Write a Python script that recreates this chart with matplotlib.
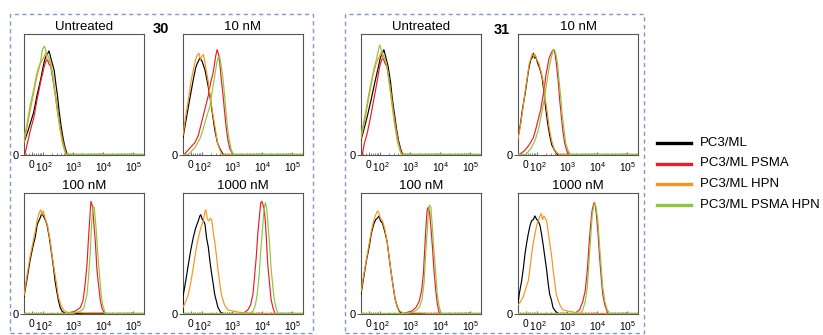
import numpy as np
import matplotlib
matplotlib.use("Agg")
import matplotlib.pyplot as plt
from matplotlib.lines import Line2D
from matplotlib.patches import Rectangle

plt.rcParams['font.family'] = ['Liberation Sans', 'DejaVu Sans']
plt.rcParams['mathtext.fontset'] = 'custom'
plt.rcParams['mathtext.rm'] = 'Liberation Sans'
plt.rcParams['mathtext.default'] = 'regular'

# ---------------- data ----------------
SERIES = ['PC3/ML', 'PC3/ML PSMA', 'PC3/ML HPN', 'PC3/ML PSMA HPN']
COLORS = ['#000000', '#ec1c24', '#f7941d', '#8dc63f']
COMPOUNDS = ['30', '31']
TREATMENTS = ['Untreated', '10 nM', '100 nM', '1000 nM']
# x: logicle display position in decades (0 sits near 1.62), y: fraction of axis height
TICK_POS = [1.62, 2, 3, 4, 5]
TICK_LABELS = ['0', ' $10^2$', '$10^3$', '$10^4$', '$10^5$']
X_RANGE = (1.37, 5.35)

# compound 30, untreated
P30_UNT_K = [(1.37,0.10),(1.52,0.21),(1.69,0.35),(1.80,0.49),(1.92,0.62),(2.03,0.76),(2.09,0.81),(2.14,0.83),(2.20,0.86),(2.26,0.80),(2.37,0.70),(2.43,0.58),(2.48,0.49),(2.54,0.35),(2.60,0.24),(2.65,0.16),(2.71,0.08),(2.80,0.0)]
P30_UNT_R = [(1.40,0.0),(1.48,0.09),(1.57,0.19),(1.69,0.30),(1.80,0.45),(1.92,0.60),(2.03,0.72),(2.09,0.77),(2.14,0.79),(2.20,0.75),(2.26,0.73),(2.31,0.65),(2.40,0.51),(2.48,0.38),(2.57,0.23),(2.65,0.13),(2.71,0.06),(2.77,0.0)]
P30_UNT_O = [(1.37,0.10),(1.46,0.21),(1.57,0.36),(1.69,0.51),(1.80,0.65),(1.92,0.76),(2.01,0.80),(2.09,0.84),(2.14,0.79),(2.23,0.77),(2.31,0.68),(2.39,0.51),(2.48,0.35),(2.57,0.20),(2.65,0.09),(2.73,0.02),(2.78,0.0)]
P30_UNT_G = [(1.37,0.14),(1.46,0.24),(1.57,0.40),(1.69,0.54),(1.80,0.68),(1.92,0.77),(1.98,0.87),(2.05,0.90),(2.12,0.84),(2.20,0.80),(2.26,0.76),(2.35,0.62),(2.43,0.46),(2.51,0.32),(2.57,0.21),(2.65,0.10),(2.71,0.05),(2.77,0.0)]

# compound 30, 10 nM
P30_10_K = [(1.37,0.14),(1.46,0.27),(1.55,0.40),(1.63,0.51),(1.71,0.62),(1.79,0.72),(1.85,0.76),(1.93,0.80),(2.01,0.77),(2.10,0.70),(2.18,0.60),(2.26,0.49),(2.34,0.35),(2.42,0.21),(2.51,0.10),(2.59,0.05),(2.70,0.0)]
P30_10_R = [(1.41,0.0),(1.55,0.04),(1.77,0.10),(1.88,0.16),(1.99,0.27),(2.10,0.38),(2.21,0.49),(2.29,0.60),(2.37,0.68),(2.45,0.81),(2.50,0.87),(2.55,0.83),(2.59,0.76),(2.64,0.62),(2.70,0.49),(2.75,0.35),(2.81,0.21),(2.86,0.12),(2.92,0.05),(3.03,0.0)]
P30_10_O = [(1.37,0.16),(1.46,0.32),(1.55,0.46),(1.63,0.60),(1.71,0.70),(1.79,0.79),(1.85,0.83),(1.90,0.84),(1.95,0.79),(2.01,0.82),(2.05,0.83),(2.12,0.73),(2.21,0.60),(2.29,0.45),(2.37,0.32),(2.45,0.20),(2.51,0.10),(2.59,0.04),(2.67,0.0)]
P30_10_G = [(1.55,0.0),(1.77,0.06),(1.93,0.13),(2.04,0.21),(2.15,0.31),(2.26,0.40),(2.35,0.54),(2.42,0.65),(2.49,0.76),(2.53,0.80),(2.58,0.82),(2.64,0.73),(2.70,0.62),(2.75,0.49),(2.81,0.32),(2.86,0.19),(2.92,0.10),(2.97,0.04),(3.05,0.0)]

# compound 30, 100 nM
P30_100_K = [(1.37,0.14),(1.46,0.27),(1.57,0.44),(1.66,0.55),(1.74,0.63),(1.81,0.74),(1.90,0.79),(1.96,0.83),(2.01,0.81),(2.07,0.78),(2.13,0.74),(2.21,0.63),(2.29,0.49),(2.35,0.38),(2.40,0.27),(2.46,0.18),(2.51,0.11),(2.57,0.05),(2.63,0.02),(2.74,0.0)]
P30_100_R = [(2.79,0.0),(3.07,0.02),(3.24,0.05),(3.33,0.11),(3.40,0.25),(3.46,0.41),(3.51,0.63),(3.56,0.82),(3.59,0.93),(3.64,0.89),(3.68,0.77),(3.74,0.58),(3.79,0.36),(3.85,0.22),(3.90,0.11),(3.96,0.04),(4.04,0.0)]
P30_100_O = [(1.37,0.15),(1.46,0.30),(1.57,0.47),(1.66,0.58),(1.74,0.68),(1.81,0.78),(1.88,0.84),(1.93,0.86),(1.97,0.82),(2.01,0.85),(2.07,0.79),(2.15,0.73),(2.24,0.60),(2.31,0.47),(2.37,0.37),(2.44,0.26),(2.51,0.14),(2.59,0.07),(2.68,0.03),(2.79,0.01),(3.01,0.01),(3.35,0.005),(4.01,0.005),(4.2,0.0)]
P30_100_G = [(3.01,0.0),(3.24,0.02),(3.35,0.04),(3.46,0.16),(3.51,0.30),(3.57,0.52),(3.61,0.74),(3.66,0.89),(3.70,0.88),(3.76,0.71),(3.81,0.52),(3.87,0.33),(3.93,0.16),(3.98,0.07),(4.07,0.0)]

# compound 30, 1000 nM
P30_1000_K = [(1.37,0.0),(1.37,0.14),(1.46,0.27),(1.55,0.41),(1.63,0.53),(1.71,0.63),(1.79,0.71),(1.88,0.77),(1.93,0.81),(1.96,0.82),(2.01,0.78),(2.05,0.77),(2.10,0.74),(2.15,0.63),(2.21,0.55),(2.26,0.44),(2.32,0.33),(2.37,0.25),(2.42,0.16),(2.48,0.10),(2.53,0.05),(2.62,0.01),(2.70,0.0)]
P30_1000_R = [(3.36,0.0),(3.52,0.03),(3.61,0.07),(3.69,0.16),(3.74,0.30),(3.80,0.47),(3.85,0.66),(3.91,0.82),(3.95,0.92),(3.99,0.93),(4.05,0.88),(4.10,0.77),(4.14,0.60),(4.18,0.41),(4.24,0.25),(4.29,0.12),(4.35,0.05),(4.42,0.0)]
P30_1000_O = [(1.37,0.05),(1.46,0.10),(1.55,0.16),(1.63,0.26),(1.71,0.38),(1.79,0.51),(1.88,0.63),(1.96,0.71),(2.04,0.77),(2.10,0.85),(2.13,0.86),(2.18,0.78),(2.23,0.77),(2.27,0.79),(2.32,0.78),(2.37,0.68),(2.42,0.60),(2.48,0.48),(2.53,0.36),(2.59,0.25),(2.64,0.16),(2.70,0.11),(2.75,0.07),(2.86,0.03),(3.03,0.02),(3.25,0.01),(3.52,0.005),(3.74,0.0)]
P30_1000_G = [(3.58,0.0),(3.69,0.02),(3.77,0.07),(3.83,0.16),(3.89,0.30),(3.94,0.49),(4.00,0.68),(4.05,0.85),(4.10,0.92),(4.14,0.88),(4.18,0.77),(4.24,0.58),(4.29,0.38),(4.35,0.22),(4.40,0.11),(4.46,0.04),(4.53,0.0)]

# compound 31, untreated
P31_UNT_K = [(1.37,0.12),(1.49,0.23),(1.60,0.34),(1.71,0.46),(1.83,0.60),(1.94,0.72),(2.01,0.80),(2.08,0.84),(2.13,0.87),(2.19,0.81),(2.27,0.73),(2.35,0.60),(2.41,0.46),(2.49,0.32),(2.55,0.21),(2.61,0.12),(2.68,0.05),(2.75,0.0)]
P31_UNT_R = [(1.41,0.0),(1.48,0.09),(1.57,0.17),(1.68,0.30),(1.79,0.45),(1.90,0.60),(1.99,0.73),(2.06,0.79),(2.10,0.80),(2.16,0.76),(2.24,0.72),(2.30,0.62),(2.38,0.49),(2.46,0.34),(2.55,0.19),(2.63,0.09),(2.69,0.03),(2.75,0.0)]
P31_UNT_O = [(1.37,0.13),(1.46,0.24),(1.57,0.39),(1.68,0.54),(1.79,0.68),(1.88,0.76),(1.97,0.81),(2.04,0.85),(2.10,0.80),(2.17,0.79),(2.25,0.70),(2.33,0.55),(2.41,0.39),(2.49,0.24),(2.57,0.12),(2.66,0.04),(2.71,0.0)]
P31_UNT_G = [(1.37,0.16),(1.46,0.27),(1.57,0.42),(1.68,0.57),(1.79,0.70),(1.88,0.79),(1.95,0.87),(1.99,0.91),(2.05,0.86),(2.13,0.81),(2.21,0.76),(2.30,0.62),(2.38,0.46),(2.46,0.31),(2.53,0.20),(2.60,0.09),(2.68,0.02),(2.73,0.0)]

# compound 31, 10 nM
P31_10_K = [(1.37,0.14),(1.45,0.25),(1.52,0.38),(1.61,0.51),(1.69,0.65),(1.74,0.73),(1.80,0.79),(1.85,0.81),(1.88,0.84),(1.92,0.80),(1.96,0.81),(2.02,0.76),(2.07,0.73),(2.13,0.68),(2.18,0.62),(2.24,0.50),(2.29,0.38),(2.36,0.25),(2.42,0.16),(2.49,0.08),(2.57,0.04),(2.68,0.0)]
P31_10_R = [(1.41,0.0),(1.58,0.03),(1.74,0.08),(1.88,0.14),(1.96,0.21),(2.05,0.30),(2.13,0.38),(2.18,0.46),(2.24,0.54),(2.29,0.65),(2.35,0.73),(2.40,0.80),(2.47,0.84),(2.51,0.86),(2.56,0.87),(2.60,0.83),(2.64,0.76),(2.70,0.62),(2.75,0.46),(2.81,0.31),(2.86,0.19),(2.92,0.09),(2.99,0.03),(3.06,0.0)]
P31_10_O = [(1.37,0.13),(1.45,0.24),(1.52,0.36),(1.61,0.53),(1.69,0.66),(1.74,0.75),(1.80,0.80),(1.85,0.84),(1.90,0.81),(1.94,0.83),(1.99,0.79),(2.07,0.75),(2.14,0.68),(2.21,0.60),(2.27,0.47),(2.34,0.35),(2.40,0.23),(2.48,0.12),(2.56,0.05),(2.64,0.02),(2.73,0.0)]
P31_10_G = [(1.63,0.0),(1.80,0.05),(1.94,0.12),(2.05,0.21),(2.16,0.35),(2.25,0.47),(2.34,0.62),(2.40,0.72),(2.47,0.80),(2.53,0.86),(2.58,0.87),(2.62,0.84),(2.68,0.76),(2.73,0.62),(2.79,0.47),(2.84,0.32),(2.90,0.20),(2.95,0.10),(3.02,0.04),(3.11,0.0)]

# compound 31, 100 nM
P31_100_K = [(1.37,0.16),(1.46,0.30),(1.55,0.44),(1.64,0.55),(1.71,0.66),(1.79,0.74),(1.86,0.78),(1.91,0.79),(1.97,0.81),(2.01,0.77),(2.08,0.75),(2.16,0.68),(2.24,0.59),(2.30,0.47),(2.37,0.34),(2.44,0.22),(2.50,0.12),(2.57,0.06),(2.64,0.02),(2.71,0.0)]
P31_100_R = [(2.77,0.0),(3.05,0.02),(3.19,0.05),(3.30,0.10),(3.38,0.19),(3.44,0.33),(3.48,0.52),(3.53,0.74),(3.56,0.85),(3.59,0.88),(3.64,0.85),(3.68,0.74),(3.74,0.55),(3.79,0.36),(3.85,0.19),(3.90,0.08),(3.97,0.0)]
P31_100_O = [(1.37,0.18),(1.46,0.32),(1.55,0.45),(1.64,0.58),(1.71,0.68),(1.79,0.77),(1.86,0.82),(1.91,0.85),(1.96,0.84),(2.01,0.79),(2.08,0.77),(2.16,0.70),(2.24,0.59),(2.30,0.47),(2.37,0.34),(2.44,0.22),(2.50,0.12),(2.58,0.05),(2.66,0.02),(2.77,0.005),(3.44,0.003),(3.6,0.0)]
P31_100_G = [(2.94,0.0),(3.16,0.02),(3.30,0.05),(3.39,0.11),(3.46,0.25),(3.51,0.47),(3.56,0.66),(3.60,0.82),(3.64,0.90),(3.69,0.88),(3.73,0.74),(3.79,0.52),(3.85,0.33),(3.90,0.16),(3.96,0.06),(4.03,0.0)]

# compound 31, 1000 nM
P31_1000_K = [(1.37,0.08),(1.41,0.16),(1.49,0.27),(1.55,0.38),(1.60,0.49),(1.66,0.59),(1.71,0.66),(1.77,0.73),(1.82,0.77),(1.88,0.78),(1.93,0.81),(1.99,0.78),(2.04,0.77),(2.10,0.73),(2.15,0.66),(2.21,0.56),(2.26,0.47),(2.32,0.36),(2.37,0.25),(2.42,0.16),(2.48,0.11),(2.53,0.05),(2.61,0.02),(2.70,0.0)]
P31_1000_R = [(3.25,0.0),(3.41,0.03),(3.52,0.10),(3.60,0.19),(3.67,0.36),(3.72,0.55),(3.78,0.74),(3.83,0.86),(3.89,0.92),(3.93,0.90),(3.97,0.82),(4.02,0.68),(4.07,0.49),(4.13,0.30),(4.18,0.16),(4.25,0.07),(4.35,0.0)]
P31_1000_O = [(1.37,0.07),(1.46,0.10),(1.55,0.14),(1.63,0.21),(1.71,0.27),(1.77,0.38),(1.82,0.49),(1.88,0.59),(1.93,0.66),(1.99,0.73),(2.04,0.77),(2.10,0.81),(2.14,0.83),(2.18,0.78),(2.23,0.81),(2.27,0.79),(2.32,0.77),(2.37,0.68),(2.42,0.59),(2.48,0.49),(2.53,0.37),(2.59,0.26),(2.64,0.16),(2.70,0.11),(2.78,0.06),(2.86,0.03),(3.03,0.02),(3.25,0.01),(3.41,0.0)]
P31_1000_G = [(3.41,0.0),(3.52,0.03),(3.60,0.10),(3.67,0.22),(3.72,0.41),(3.78,0.63),(3.83,0.81),(3.88,0.89),(3.92,0.92),(3.96,0.88),(4.02,0.77),(4.07,0.58),(4.13,0.38),(4.18,0.22),(4.25,0.10),(4.33,0.03),(4.42,0.0)]

PANELS = {
    ('30', 'Untreated'): [P30_UNT_K, P30_UNT_R, P30_UNT_O, P30_UNT_G],
    ('30', '10 nM'): [P30_10_K, P30_10_R, P30_10_O, P30_10_G],
    ('30', '100 nM'): [P30_100_K, P30_100_R, P30_100_O, P30_100_G],
    ('30', '1000 nM'): [P30_1000_K, P30_1000_R, P30_1000_O, P30_1000_G],
    ('31', 'Untreated'): [P31_UNT_K, P31_UNT_R, P31_UNT_O, P31_UNT_G],
    ('31', '10 nM'): [P31_10_K, P31_10_R, P31_10_O, P31_10_G],
    ('31', '100 nM'): [P31_100_K, P31_100_R, P31_100_O, P31_100_G],
    ('31', '1000 nM'): [P31_1000_K, P31_1000_R, P31_1000_O, P31_1000_G],
}

# ---------------- layout ----------------
W, H = 823, 335
fig = plt.figure(figsize=(W / 100, H / 100), dpi=100)
fig.patch.set_facecolor('white')

def fx(px):
    return px / W

def fy(py):
    return 1 - py / H

col_left = {('30', 0): 24, ('30', 1): 183, ('31', 0): 361, ('31', 1): 518}
row_top = [34, 193]
AW, AH = 120, 121

minor = []
for n in (2, 3, 4):
    for k in range(2, 10):
        minor.append(n + np.log10(k))
minor += [1.45, 1.55, 1.70, 1.78, 1.85, 1.9, 1.95]

for comp in COMPOUNDS:
    for i, treat in enumerate(TREATMENTS):
        r, c = divmod(i, 2)
        l = col_left[(comp, c)]
        t = row_top[r]
        ax = fig.add_axes([fx(l), fy(t + AH), AW / W, AH / H])
        curves = PANELS[(comp, treat)]
        for s in range(len(SERIES)):
            pts = curves[s]
            xs = [p[0] for p in pts]
            ys = [p[1] for p in pts]
            if ys[0] == 0:
                xs = [X_RANGE[0]] + xs
                ys = [0] + ys
            if ys[-1] == 0:
                xs = xs + [X_RANGE[1]]
                ys = ys + [0]
            ax.plot(xs, ys, color=COLORS[s], lw=0.85, zorder=3 + s * 0.1,
                    solid_joinstyle='round')
        ax.set_xlim(*X_RANGE)
        ax.set_ylim(-0.004, 1.0)
        ax.set_xticks(TICK_POS)
        ax.set_xticklabels(TICK_LABELS)
        ax.set_xticks(minor, minor=True)
        ax.set_yticks([0])
        ax.set_yticklabels(['0'])
        ax.tick_params(axis='x', which='major', direction='in', length=2.5,
                       width=0.6, labelsize=7.4, pad=3.5, color='#555555')
        ax.tick_params(axis='x', which='minor', direction='in', length=1.5,
                       width=0.5, color='#555555')
        ax.tick_params(axis='y', direction='out', length=3, width=0.6,
                       labelsize=8, pad=1, color='#333333')
        for sp in ax.spines.values():
            sp.set_color('#555555')
            sp.set_linewidth(0.8)
        ax.set_title(treat, fontsize=9.5, pad=3)

# compound labels
fig.text(fx(161), fy(29), '30', fontsize=10.5, fontweight='bold', ha='center', va='center')
fig.text(fx(502), fy(30), '31', fontsize=10.5, fontweight='bold', ha='center', va='center')

# dashed group boxes
for x0, x1 in [(10, 313), (345, 644)]:
    fig.add_artist(Rectangle((fx(x0), fy(333)), (x1 - x0) / W, (333 - 14) / H,
                             transform=fig.transFigure, fill=False,
                             ls=(0, (3, 2.5)), ec='#7f97d0', lw=1.0))

# legend
leg_y = [143, 163.5, 184, 204.5]
for s, name in enumerate(SERIES):
    fig.add_artist(Line2D([fx(657), fx(691)], [fy(leg_y[s])] * 2,
                          transform=fig.transFigure, color=COLORS[s], lw=2.4))
    fig.text(fx(700), fy(leg_y[s]), name, fontsize=9.5, ha='left', va='center')

fig.savefig('out.png', dpi=100)
